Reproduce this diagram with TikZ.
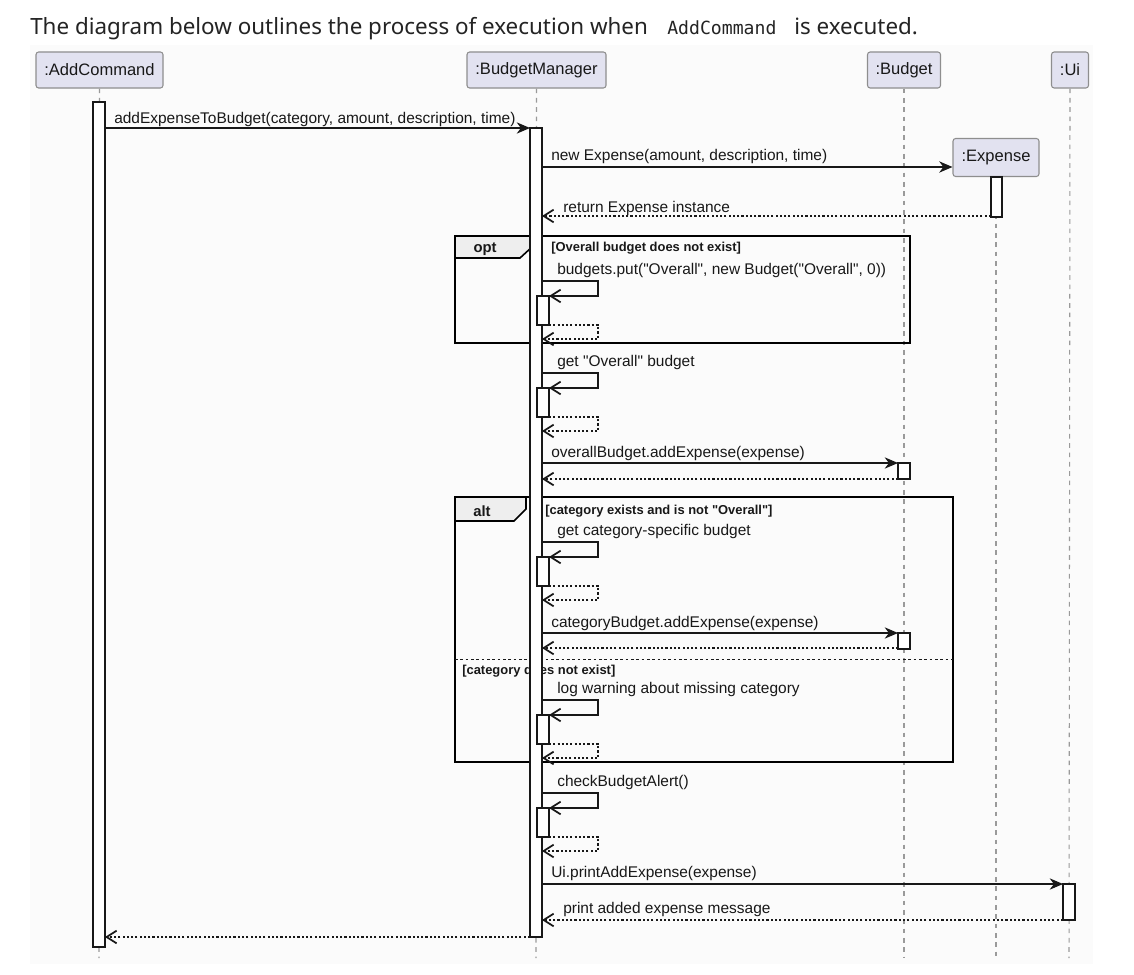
\documentclass[tikz,border=0pt]{standalone}
\usepackage{fontspec}
\setmainfont{Liberation Sans}
\newfontfamily\titlefont{Noto Sans}
\newfontfamily\codefont{DejaVu Sans Mono}
\usetikzlibrary{arrows.meta}
\definecolor{pfill}{HTML}{E2E2F0}
\definecolor{pborder}{HTML}{8E8E8E}
\definecolor{lifegray}{HTML}{9A9A9A}
\definecolor{ink}{HTML}{181818}
\definecolor{tabfill}{HTML}{EEEEEE}
\definecolor{bgdiag}{HTML}{FBFBFB}
\definecolor{titleink}{HTML}{242424}
\newcommand\dq{\textquotedbl}
\tikzset{
  part/.style={draw=pborder, fill=pfill, rounded corners=2pt, line width=0.8pt,
    font=\fontsize{12.4}{14}\selectfont, inner sep=0pt, minimum height=27pt, text=ink},
  life/.style={draw=lifegray, dash pattern=on 3.5pt off 3.5pt, line width=0.8pt},
  actbar/.style={draw=ink, fill=white, line width=0.8pt},
  msg/.style={draw=ink, line width=0.8pt, -{Stealth[length=10pt,width=8.5pt,inset=3.2pt]}},
  ret/.style={draw=ink, line width=0.8pt, dash pattern=on 1.6pt off 1.6pt,
    -{Straight Barb[length=7.5pt,width=9.5pt,line width=1.3pt]}},
  selfmsg/.style={draw=ink, line width=0.8pt, -{Straight Barb[length=7.5pt,width=9.5pt,line width=1.3pt]}},
  lbl/.style={anchor=west, font=\fontsize{11.6}{13}\selectfont, inner sep=0pt, text=ink, yshift=-1.2pt},
  guard/.style={anchor=west, font=\bfseries\fontsize{9.7}{11}\selectfont, inner sep=0pt, text=ink, yshift=-1pt},
  kw/.style={anchor=center, font=\bfseries\fontsize{11.1}{13}\selectfont, inner sep=0pt, text=ink, yshift=-1pt},
  frm/.style={draw=black, line width=1.5pt},
  tab/.style={draw=black, fill=tabfill, line width=1.2pt},
  ttl/.style={anchor=base west, inner sep=0pt, text=titleink, font=\titlefont\fontsize{16.8}{20}\selectfont},
}
\begin{document}
\begin{tikzpicture}[x=0.75pt,y=-0.75pt]
\useasboundingbox (0,0) rectangle (1134,974);
\fill[white] (0,0) rectangle (1134,974);
\fill[bgdiag] (30,45) rectangle (1093,964);

% title
\node[ttl] (t1) at (30,35) {The diagram below outlines the process of execution when};
\node[ttl, font=\codefont\fontsize{13.6}{16}\selectfont] (t2) at (667,35) {AddCommand};
\node[ttl] (t3) at (794,35) {is executed.};

% participants
\node[part, minimum width=95.25pt] (pAC) at (99.5,70) {:AddCommand};
\node[part, minimum width=104.25pt] (pBM) at (536.5,70) {:BudgetManager};
\node[part, minimum width=54.75pt] (pBU) at (904,70) {:Budget};
\node[part, minimum width=27.75pt] (pUI) at (1070,70) {:Ui};

% lifeline ends
\coordinate (eAC) at (99,958);
\coordinate (eBM) at (536,958);
\coordinate (eBU) at (904,958);
\coordinate (eEX) at (996,958);
\coordinate (eUI) at (1069,958);
\draw[life] (pAC.south) -- (eAC);
\draw[life] (pBM.south) -- (eBM);
\draw[life] (pBU.south) -- (eBU);
\draw[life] (pUI.south) -- (eUI);

\node[part, minimum width=64.5pt, minimum height=28.5pt] (pEX) at (996,157.5) {:Expense};
\draw[life] (pEX.south) -- (eEX);

% frames
\draw[frm] (455,236) rectangle (910,343);
\draw[tab] (455,236) -- (532,236) -- (532,247) -- (520,258) -- (455,258) -- cycle;
\node[kw] (kopt) at (485,248) {opt};
\node[guard] (gopt) at (551,247) {[Overall budget does not exist]};

\draw[frm] (455,497) rectangle (953,762);
\draw[tab] (455,497) -- (526,497) -- (526,509) -- (514,521) -- (455,521) -- cycle;
\node[kw] (kalt) at (482,510) {alt};
\node[guard] (galt) at (545,510) {[category exists and is not \dq Overall\dq]};
\draw[draw=ink, line width=0.8pt, dash pattern=on 2pt off 2pt] (455,659.5) -- (953,659.5);
\node[guard] (galt2) at (462,670) {[category does not exist]};

% activation bars
\draw[actbar] (93,102) rectangle (105,947);
\draw[actbar] (530,128) rectangle (542,937);
\draw[actbar] (991,177) rectangle (1002,217);
\draw[actbar] (898,463) rectangle (910,479);
\draw[actbar] (898,633) rectangle (910,649);
\draw[actbar] (1063,884) rectangle (1075,920);

% message 1
\coordinate (m1a) at (105,128); \coordinate (m1b) at (530,128);
\draw[msg] (m1a) -- (m1b);
\node[lbl] (l1) at (114,118) {addExpenseToBudget(category, amount, description, time)};

% new Expense
\coordinate (m2a) at (542,167);
\draw[msg] (m2a) -- (pEX.west |- m2a);
\node[lbl] (l2) at (551,155) {new Expense(amount, description, time)};
\coordinate (r2a) at (991,216); \coordinate (r2b) at (542,216);
\draw[ret] (r2a) -- (r2b);
\node[lbl] (l3) at (563,207) {return Expense instance};

% self calls
\foreach \t/\txt in {281/{budgets.put(\dq Overall\dq, new Budget(\dq Overall\dq, 0))},
                     373/{get \dq Overall\dq\ budget},
                     542/{get category-specific budget},
                     700/{log warning about missing category},
                     793/{checkBudgetAlert()}} {
  \coordinate (sA) at (542,\t);
  \coordinate (sB) at (598,\t);
  \coordinate (sC) at (598,\t+15);
  \coordinate (sD) at (549,\t+15);
  \draw[actbar] (537,\t+15) rectangle (549,\t+44);
  \draw[selfmsg] (sA) -- (sB) -- (sC) -- (sD);
  \coordinate (sE) at (549,\t+44);
  \coordinate (sF) at (598,\t+44);
  \coordinate (sG) at (598,\t+58);
  \coordinate (sH) at (542,\t+58);
  \draw[ret] (sE) -- (sF) -- (sG) -- (sH);
  \node[lbl] at (557,\t-12) {\txt};
}

% overall budget add
\coordinate (m3a) at (542,463); \coordinate (m3b) at (898,463);
\draw[msg] (m3a) -- (m3b);
\node[lbl] (l4) at (551,452) {overallBudget.addExpense(expense)};
\coordinate (r3a) at (898,479); \coordinate (r3b) at (542,479);
\draw[ret] (r3a) -- (r3b);

% category budget add
\coordinate (m4a) at (542,633); \coordinate (m4b) at (898,633);
\draw[msg] (m4a) -- (m4b);
\node[lbl] (l5) at (551,622) {categoryBudget.addExpense(expense)};
\coordinate (r4a) at (898,648); \coordinate (r4b) at (542,648);
\draw[ret] (r4a) -- (r4b);

% Ui
\coordinate (m5a) at (542,884); \coordinate (m5b) at (1063,884);
\draw[msg] (m5a) -- (m5b);
\node[lbl] (l6) at (551,872) {Ui.printAddExpense(expense)};
\coordinate (r5a) at (1063,920); \coordinate (r5b) at (542,920);
\draw[ret] (r5a) -- (r5b);
\node[lbl] (l7) at (563,908) {print added expense message};

% final return
\coordinate (r1a) at (530,937); \coordinate (r1b) at (105,937);
\draw[ret] (r1a) -- (r1b);
\end{tikzpicture}
\end{document}
